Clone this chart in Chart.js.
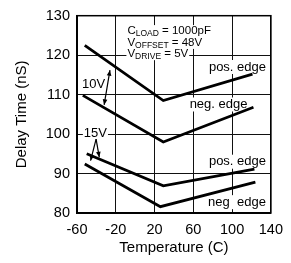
<!DOCTYPE html>
<html><head><meta charset="utf-8">
<script src="https://cdn.jsdelivr.net/npm/chart.js@4/dist/chart.umd.min.js"></script>
<style>html,body{margin:0;padding:0;background:#fff}#w{width:291px;height:263px;position:relative}</style>
</head><body><div id="w"><canvas id="c"></canvas></div>
<script>
// Data
const xTicks = [-60, -20, 20, 60, 100, 140];
const yTicks = [80, 90, 100, 110, 120, 130];
const pos10Temp = [-52, 29, 121];
const pos10Delay = [122.5, 108.5, 115.2];
const neg10Temp = [-54, 29, 122];
const neg10Delay = [109.8, 98, 106.8];
const pos15Temp = [-50, 29, 123];
const pos15Delay = [95, 86.9, 91.1];
const neg15Temp = [-52, 26, 124];
const neg15Delay = [92.4, 81.6, 87.8];

const FONT = "'Liberation Sans', Arial, Helvetica, sans-serif";
const toPts = (t, d) => t.map((x, i) => ({x, y: d[i]}));
const lineDs = (t, d) => ({data: toPts(t, d), borderColor: '#000', borderWidth: 2.8, pointRadius: 0, fill: false, tension: 0});

const labels = [
  {t: 'pos. edge', x: 105.5, y: 117, size: 13},
  {t: 'neg. edge', x: 86, y: 107.5, size: 13},
  {t: 'pos. edge', x: 105.5, y: 93, size: 13},
  {t: 'neg  edge', x: 105, y: 82.75, size: 13},
  {t: '10V', x: -43, y: 112.6, size: 13},
  {t: '15V', x: -41, y: 100.25, size: 13}
];
const subLabels = [
  {m: 'C', s: 'LOAD', r: ' = 1000pF', x: -8, y: 126.1},
  {m: 'V', s: 'OFFSET', r: ' = 48V', x: -8, y: 123.1},
  {m: 'V', s: 'DRIVE', r: ' = 5V', x: -8, y: 120.25}
];
const arrows = [
  {x1: -26, y1: 116.2, x2: -32, y2: 107.4, both: true},
  {x1: -40.3, y1: 98.7, x2: -46, y2: 93.25},
  {x1: -40.3, y1: 98.7, x2: -37, y2: 94.1}
];

function head(ctx, fx, fy, tx, ty) {
  const a = Math.atan2(ty - fy, tx - fx), L = 6, w = 0.4;
  ctx.beginPath();
  ctx.moveTo(tx, ty);
  ctx.lineTo(tx - L * Math.cos(a - w), ty - L * Math.sin(a - w));
  ctx.lineTo(tx - L * Math.cos(a + w), ty - L * Math.sin(a + w));
  ctx.closePath(); ctx.fill();
}

const annot = {
  id: 'annot',
  beforeDatasetsDraw(chart) {
    const {ctx, scales: {x, y}} = chart;
    ctx.save();
    ctx.textBaseline = 'middle';
    labels.forEach(l => {
      ctx.font = l.size + 'px ' + FONT;
      const w = ctx.measureText(l.t).width;
      const px = x.getPixelForValue(l.x), py = y.getPixelForValue(l.y);
      ctx.fillStyle = '#fff';
      ctx.fillRect(px - w / 2 - 1, py - 7, w + 2, 14);
      ctx.fillStyle = '#000';
      ctx.textAlign = 'center';
      ctx.fillText(l.t, px, py);
    });
    ctx.textAlign = 'left';
    subLabels.forEach(l => {
      let px = x.getPixelForValue(l.x); const py = y.getPixelForValue(l.y);
      ctx.font = '11.5px ' + FONT; const w1 = ctx.measureText(l.m).width;
      ctx.font = '8.5px ' + FONT; const w2 = ctx.measureText(l.s).width;
      ctx.font = '11.5px ' + FONT; const w3 = ctx.measureText(l.r).width;
      ctx.fillStyle = '#fff';
      ctx.fillRect(px - 1, py - 6, w1 + w2 + w3 + 2, 12);
      ctx.fillStyle = '#000';
      ctx.fillText(l.m, px, py); px += w1;
      ctx.font = '8.5px ' + FONT; ctx.fillText(l.s, px, py + 2.5); px += w2;
      ctx.font = '11.5px ' + FONT; ctx.fillText(l.r, px, py);
    });
    ctx.strokeStyle = '#000'; ctx.fillStyle = '#000'; ctx.lineWidth = 1.2;
    arrows.forEach(a => {
      const x1 = x.getPixelForValue(a.x1), y1 = y.getPixelForValue(a.y1);
      const x2 = x.getPixelForValue(a.x2), y2 = y.getPixelForValue(a.y2);
      ctx.beginPath(); ctx.moveTo(x1, y1); ctx.lineTo(x2, y2); ctx.stroke();
      head(ctx, x1, y1, x2, y2);
      if (a.both) head(ctx, x2, y2, x1, y1);
    });
    ctx.restore();
  },
  afterDraw(chart) {
    const {ctx, chartArea: a} = chart;
    ctx.save();
    ctx.strokeStyle = '#000'; ctx.lineWidth = 1.5;
    ctx.strokeRect(a.left, a.top, a.right - a.left, a.bottom - a.top);
    ctx.restore();
  }
};

new Chart(document.getElementById('c'), {
  type: 'line',
  data: {datasets: [lineDs(pos10Temp, pos10Delay), lineDs(neg10Temp, neg10Delay), lineDs(pos15Temp, pos15Delay), lineDs(neg15Temp, neg15Delay)]},
  options: {
    responsive: true, maintainAspectRatio: false, animation: false,
    layout: {padding: {top: 13, right: 13, left: 0, bottom: 0}},
    plugins: {legend: {display: false}, tooltip: {enabled: false}},
    scales: {
      x: {
        type: 'linear', min: -60, max: 140,
        afterBuildTicks: s => { s.ticks = xTicks.map(v => ({value: v})); },
        afterFit: s => { s.height = 50; },
        ticks: {color: '#000', font: {family: FONT, size: 14.5}, padding: 8, maxRotation: 0, autoSkip: false},
        grid: {color: '#111', lineWidth: 1, drawTicks: false},
        border: {color: '#000', width: 1.5},
        title: {display: true, text: 'Temperature (C)', color: '#000', font: {family: FONT, size: 15}, padding: {top: 0, bottom: 6}}
      },
      y: {
        min: 80, max: 130,
        afterBuildTicks: s => { s.ticks = yTicks.map(v => ({value: v})); },
        afterFit: s => { s.width = 77; },
        ticks: {color: '#000', font: {family: FONT, size: 14.5}, padding: 7, autoSkip: false},
        grid: {color: '#111', lineWidth: 1, drawTicks: false},
        border: {color: '#000', width: 1.5},
        title: {display: true, text: 'Delay Time (nS)', color: '#000', font: {family: FONT, size: 15}, padding: {top: 13, bottom: 0}}
      }
    }
  },
  plugins: [annot]
});
</script></body></html>
